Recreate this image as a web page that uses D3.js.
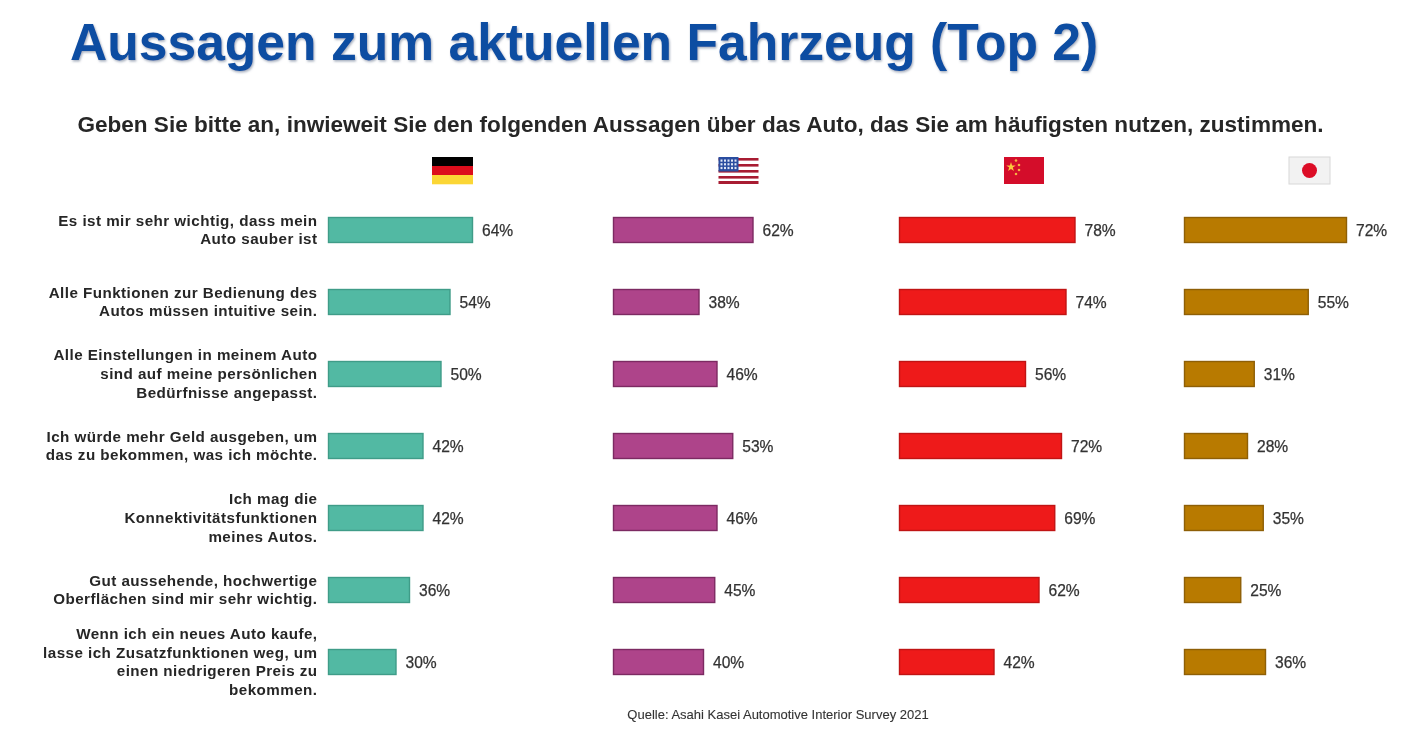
<!DOCTYPE html>
<html><head><meta charset="utf-8">
<script src="https://cdnjs.cloudflare.com/ajax/libs/d3/7.8.5/d3.min.js"></script>
<style>html,body{margin:0;padding:0;background:#fff}svg{display:block}text{font-family:"Liberation Sans",Arial,sans-serif}</style>
</head><body><div id="c"></div>
<script>
const title = "Aussagen zum aktuellen Fahrzeug (Top 2)";
const subtitle = "Geben Sie bitte an, inwieweit Sie den folgenden Aussagen über das Auto, das Sie am häufigsten nutzen, zustimmen.";
const source = "Quelle: Asahi Kasei Automotive Interior Survey 2021";
const statements = [
 ["Es ist mir sehr wichtig, dass mein","Auto sauber ist"],
 ["Alle Funktionen zur Bedienung des","Autos müssen intuitive sein."],
 ["Alle Einstellungen in meinem Auto","sind auf meine persönlichen","Bedürfnisse angepasst."],
 ["Ich würde mehr Geld ausgeben, um","das zu bekommen, was ich möchte."],
 ["Ich mag die","Konnektivitätsfunktionen","meines Autos."],
 ["Gut aussehende, hochwertige","Oberflächen sind mir sehr wichtig."],
 ["Wenn ich ein neues Auto kaufe,","lasse ich Zusatzfunktionen weg, um","einen niedrigeren Preis zu","bekommen."]
];
const germany = [64,54,50,42,42,36,30];
const usa     = [62,38,46,53,46,45,40];
const china   = [78,74,56,72,69,62,42];
const japan   = [72,55,31,28,35,25,36];
const seriesValues = [germany,usa,china,japan];
const seriesNames = ["Deutschland","USA","China","Japan"];
const seriesFill = ["#52b9a3","#ae448a","#ee1a1a","#b87a00"];
const seriesStroke = ["#3f9c88","#7c2a62","#c01414","#8e5f06"];
const seriesStart = [328.5,613.5,899.5,1184.5];

const W=1424,H=732;
const svg=d3.select("#c").append("svg").attr("width",W).attr("height",H);
const defs=svg.append("defs");
const f=defs.append("filter").attr("id","soft").attr("x","-5%").attr("y","-5%").attr("width","110%").attr("height","110%");
f.append("feGaussianBlur").attr("stdDeviation",0.35);
const ts=defs.append("filter").attr("id","tsh").attr("x","-2%").attr("y","-10%").attr("width","104%").attr("height","130%");
ts.append("feDropShadow").attr("dx",1).attr("dy",1.5).attr("stdDeviation",1).attr("flood-color","#5a6a85").attr("flood-opacity",0.55);

svg.append("text").attr("x",70).attr("y",60).attr("font-size",51.6).attr("font-weight",700)
  .attr("fill","#0b4ea2").attr("filter","url(#tsh)").text(title);
svg.append("text").attr("x",700.5).attr("y",132).attr("text-anchor","middle").attr("font-size",22.55).attr("font-weight",700)
  .attr("fill","#262626").attr("filter","url(#soft)").text(subtitle);

const y=d3.scaleBand().domain(d3.range(statements.length)).range([194,698]).paddingInner(0.653).paddingOuter(0.3265);
const x=d3.scaleLinear().domain([0,100]).range([0,225]);
const labels=svg.append("g").attr("filter","url(#soft)");
statements.forEach((lines,i)=>{
  const c=y(i)+y.bandwidth()/2, lh=18.7;
  labels.append("text").attr("text-anchor","end").attr("font-size",15.2).attr("letter-spacing",0.45).attr("font-weight",700).attr("fill","#262626")
   .selectAll("tspan").data(lines).join("tspan").attr("x",317.5)
   .attr("y",(d,k)=>c+5+(k-(lines.length-1)/2)*lh).text(d=>d);
});
seriesValues.forEach((vals,s)=>{
  const g=svg.append("g").attr("transform",`translate(${seriesStart[s]},0)`).attr("data-series",seriesNames[s]);
  g.selectAll("rect").data(vals).join("rect").attr("x",0).attr("y",(d,i)=>y(i)).attr("width",d=>x(d)).attr("height",y.bandwidth())
   .attr("fill",seriesFill[s]).attr("stroke",seriesStroke[s]).attr("stroke-width",1.4);
  g.selectAll("text").data(vals).join("text").attr("x",d=>x(d)+9.5).attr("y",(d,i)=>y(i)+y.bandwidth()/2+5.5)
   .attr("font-size",15.6).attr("fill","#333").attr("stroke","#333").attr("stroke-width",0.25).attr("filter","url(#soft)").text(d=>d+"%");
});
// flags
function flag(x0){const g=svg.append("g").attr("transform",`translate(${x0},157)`).attr("filter","url(#soft)");return g;}
const de=flag(432);
[["#050505",0],["#dc0a1e",9],["#fbd635",18]].forEach(([c,o])=>de.append("rect").attr("y",o).attr("width",41).attr("height",9.3).attr("fill",c));
const us=flag(718.5);
us.append("rect").attr("width",40).attr("height",27).attr("fill","#fff");
[1,7,13,19,24].forEach(o=>us.append("rect").attr("y",o).attr("width",40).attr("height",o===24?3:2.6).attr("fill","#a81c30"));
us.append("rect").attr("width",20).attr("height",14.5).attr("fill","#2a4da0");
d3.range(3).forEach(r=>d3.range(5).forEach(k=>us.append("rect").attr("x",2+k*3.5).attr("y",2.5+r*3.7).attr("width",2).attr("height",2.2).attr("fill","#dfe6f6")));
const cn=flag(1004);
cn.append("rect").attr("width",40).attr("height",27).attr("fill","#d4082c");
const star=d3.symbol().type(d3.symbolStar);
cn.append("path").attr("transform","translate(7,10)").attr("d",star.size(28)()).attr("fill","#fbc83c");
[[12,3.5],[15,8],[15,13],[12,17]].forEach(p=>cn.append("circle").attr("cx",p[0]).attr("cy",p[1]).attr("r",1.3).attr("fill","#f5b040"));
const jp=flag(1289);
jp.append("rect").attr("width",41).attr("height",27).attr("fill","#f2f2f2").attr("stroke","#d8d8d8").attr("stroke-width",1);
jp.append("circle").attr("cx",20.5).attr("cy",13.5).attr("r",7.5).attr("fill","#dc0a28");

svg.append("text").attr("x",778).attr("y",719).attr("text-anchor","middle").attr("font-size",13).attr("fill","#333").attr("stroke","#333").attr("stroke-width",0.1).attr("filter","url(#soft)").text(source);
</script></body></html>
